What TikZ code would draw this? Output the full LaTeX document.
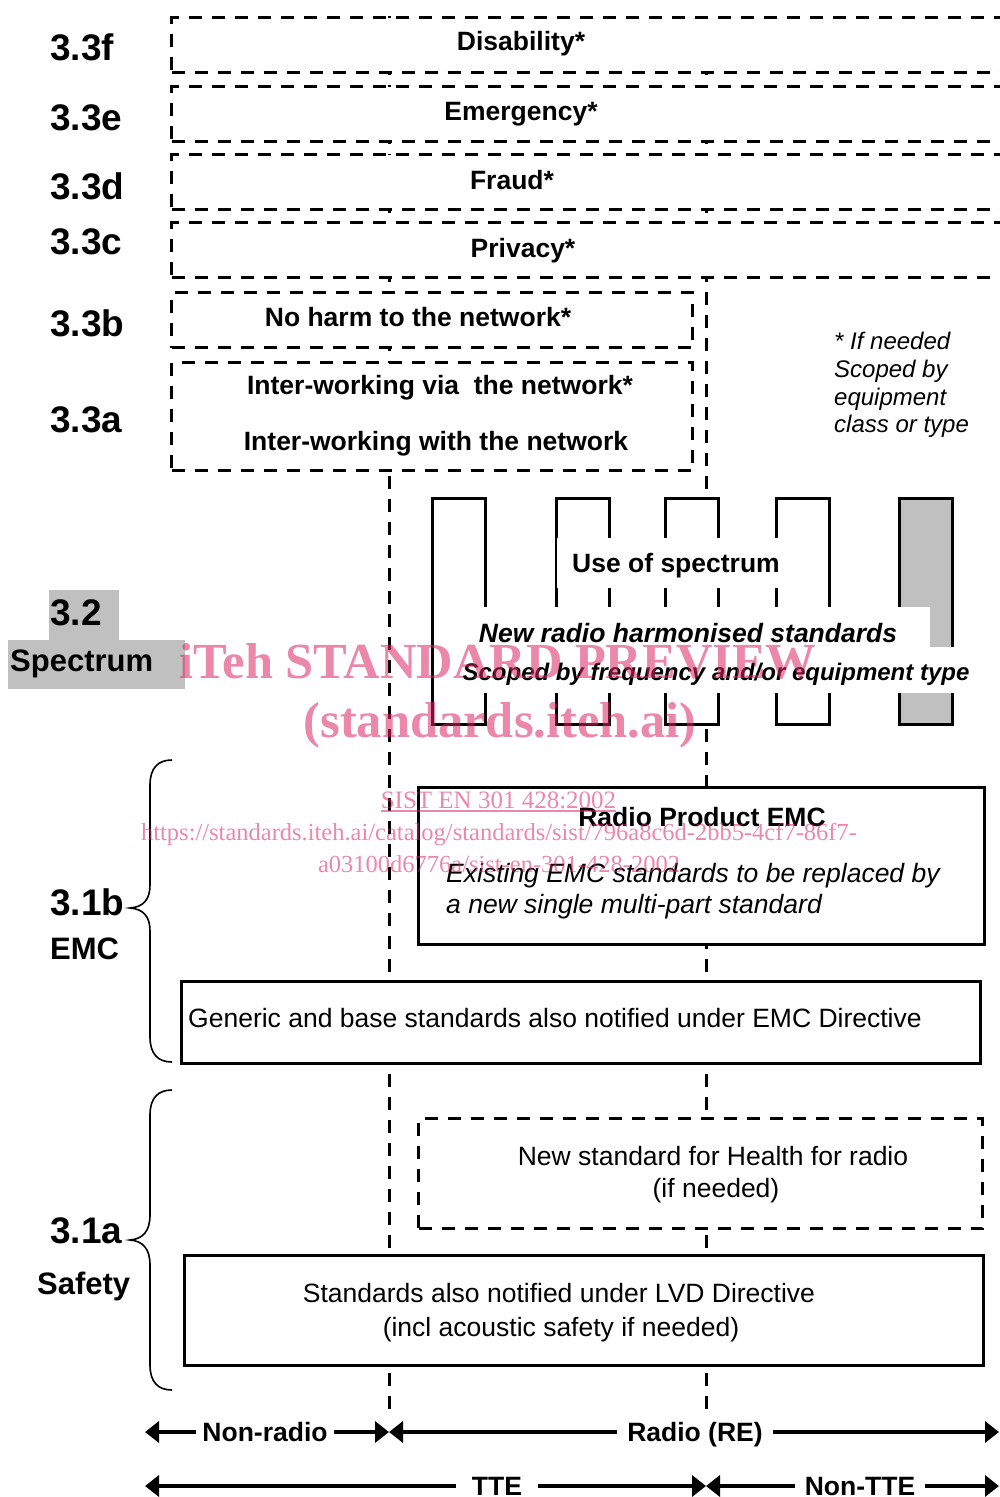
\documentclass[tikz,border=0pt]{standalone}
\usepackage{fontspec}
\setmainfont{Liberation Sans}
\newfontfamily\wmfont{Liberation Serif}
\usetikzlibrary{arrows.meta}
\definecolor{specgray}{RGB}{192,192,192}
\definecolor{wmpink}{RGB}{220,40,100}
\begin{document}
\begin{tikzpicture}[x=1pt,y=-1pt,
  dbox/.style={draw, dash pattern=on 13pt off 10pt, line width=3pt, fill=white, inner sep=0pt, anchor=north west},
  sbox/.style={draw, line width=3pt, fill=white, inner sep=0pt, anchor=north west},
  vline/.style={dash pattern=on 13pt off 10pt, line width=3pt},
  bigl/.style={anchor=base west, inner sep=0pt, font=\fontsize{37}{40}\selectfont\bfseries},
  midl/.style={anchor=base west, inner sep=0pt, font=\fontsize{31}{34}\selectfont\bfseries},
  btxt/.style={anchor=base, inner sep=0pt, font=\fontsize{26.5}{31}\selectfont\bfseries},
  rtxt/.style={anchor=base, inner sep=0pt, font=\fontsize{26.5}{31}\selectfont},
  itxt/.style={anchor=base west, inner sep=0pt, font=\fontsize{26.5}{31}\selectfont\itshape},
  note/.style={anchor=base west, inner sep=0pt, font=\fontsize{24}{27.7}\selectfont\itshape},
  arr/.style={line width=4pt, {Triangle[length=14pt,width=21pt]}-{Triangle[length=14pt,width=21pt]}},
  alab/.style={fill=white, inner ysep=0pt, inner xsep=6pt, text height=19pt, text depth=0pt, font=\fontsize{26.5}{31}\selectfont\bfseries},
  bracel/.style={line width=1.6pt},
  wm/.style={text=wmpink, text opacity=0.55, inner sep=0pt, anchor=base}
]
\useasboundingbox (0,0) rectangle (999,1497);
\fill[white] (0,0) rectangle (999,1497);

% vertical dashed separators
\coordinate (v1t) at (389,16);
\coordinate (v1b) at (389,1410);
\coordinate (v2t) at (706,16);
\coordinate (v2b) at (706,1410);
\draw[vline] (v1t) -- (v1b);
\draw[vline] (v2t) -- (v2b);

% 3.3 dashed boxes
\node[dbox, minimum width=850, minimum height=55] (dis) at (170,16) {};
\node[dbox, minimum width=850, minimum height=55] (eme) at (170,85) {};
\node[dbox, minimum width=850, minimum height=55] (fra) at (170,153) {};
\node[dbox, minimum width=850, minimum height=55] (pri) at (170,221) {};
\node[dbox, minimum width=521, minimum height=55] (noh) at (170,291) {};
\node[dbox, minimum width=521, minimum height=108] (itw) at (170,361) {};

\node[btxt] (tdis) at (521,50.5) {Disability*};
\node[btxt] (teme) at (521,120) {Emergency*};
\node[btxt] (tfra) at (512,189.5) {Fraud*};
\node[btxt] (tpri) at (523,257) {Privacy*};
\node[btxt] (tnoh) at (418,326.5) {No harm to the network*};
\node[btxt] (titw1) at (440,394.5) {Inter-working via\ \ the network*};
\node[btxt] (titw2) at (436,450.5) {Inter-working with the network};

\node[note] (n1) at (834,349.6) {* If needed};
\node[note] (n2) at (834,377.3) {Scoped by};
\node[note] (n3) at (834,405) {equipment};
\node[note] (n4) at (834,432.7) {class or type};

% left labels
\node[bigl] (l3f) at (50,60) {3.3f};
\node[bigl] (l3e) at (50,130) {3.3e};
\node[bigl] (l3d) at (50,199) {3.3d};
\node[bigl] (l3c) at (50,254) {3.3c};
\node[bigl] (l3b) at (50,336) {3.3b};
\node[bigl] (l3a) at (50,432) {3.3a};

% spectrum label
\fill[specgray] (49,590) rectangle (119,640);
\fill[specgray] (8,640) rectangle (185,689);
\node[bigl] (l32) at (50,625) {3.2};
\node[midl] (lspec) at (10,671) {Spectrum};

% spectrum boxes
\node[sbox, minimum width=53, minimum height=226] (sp1) at (431,497) {};
\node[sbox, minimum width=53, minimum height=226] (sp2) at (555,497) {};
\node[sbox, minimum width=53, minimum height=226] (sp3) at (664,497) {};
\node[sbox, minimum width=53, minimum height=226] (sp4) at (775,497) {};
\node[sbox, minimum width=53, minimum height=226, fill=specgray] (sp5) at (898,497) {};
\fill[white] (557,538) rectangle (781,588);
\fill[white] (470,607) rectangle (930,647);
\fill[white] (458,647) rectangle (975,693);
\node[btxt] (tuse) at (676,572.5) {Use of spectrum};
\node[btxt, font=\fontsize{26.5}{31}\selectfont\bfseries\itshape] (tnew) at (688,642.5) {New radio harmonised standards};
\node[btxt, font=\fontsize{24}{28}\selectfont\bfseries\itshape] (tsco) at (716,680.6) {Scoped by frequency and/or equipment type};

% EMC
\node[sbox, minimum width=566, minimum height=157] (remc) at (417,786) {};
\node[btxt] (tremc) at (702,826.5) {Radio Product EMC};
\node[itxt] (texist1) at (446,882.5) {Existing EMC standards to be replaced by};
\node[itxt] (texist2) at (446,913.5) {a new single multi-part standard};
\node[sbox, minimum width=799, minimum height=82] (gen) at (180,980) {};
\node[rtxt, anchor=base west] (tgen) at (188,1027.5) {Generic and base standards also notified under EMC Directive};
\node[bigl] (l31b) at (50,915) {3.1b};
\node[midl] (lemc) at (50,959) {EMC};
\draw[bracel] (172,760) .. controls (158,760) and (150,768) .. (150,785) -- (150,885) .. controls (150,900) and (143,907) .. (130,908) .. controls (143,909) and (150,916) .. (150,931) -- (150,1037) .. controls (150,1054) and (158,1062) .. (172,1062);

% Safety
\node[dbox, minimum width=564, minimum height=110] (hea) at (417,1117) {};
\node[rtxt] (thea1) at (713,1165.5) {New standard for Health for radio};
\node[rtxt] (thea2) at (716,1197.5) {(if needed)};
\node[sbox, minimum width=799, minimum height=110] (lvd) at (183,1254) {};
\node[rtxt] (tlvd1) at (559,1302.5) {Standards also notified under LVD Directive};
\node[rtxt] (tlvd2) at (561,1336.5) {(incl acoustic safety if needed)};
\node[bigl] (l31a) at (50,1243) {3.1a};
\node[midl] (lsaf) at (37,1294) {Safety};
\draw[bracel] (172,1090) .. controls (158,1090) and (150,1098) .. (150,1115) -- (150,1215) .. controls (150,1231) and (143,1239) .. (130,1240) .. controls (143,1241) and (150,1249) .. (150,1265) -- (150,1365) .. controls (150,1382) and (158,1390) .. (172,1390);

% bottom arrows
\coordinate (nrL) at (145,1432);
\coordinate (nrR) at (389,1432);
\coordinate (reL) at (389,1432);
\coordinate (reR) at (999,1432);
\coordinate (tteL) at (145,1486);
\coordinate (tteR) at (706,1486);
\coordinate (ntL) at (706,1486);
\coordinate (ntR) at (999,1486);
\draw[arr] (nrL) -- (nrR);
\draw[arr] (reL) -- (reR);
\draw[arr] (tteL) -- (tteR);
\draw[arr] (ntL) -- (ntR);
\node[alab] (lnr) at (265,1432) {Non-radio};
\node[alab, inner xsep=10pt] (lre) at (695,1432) {Radio (RE)};
\node[alab, inner xsep=16pt] (ltte) at (497,1486) {TTE};
\node[alab, inner xsep=10pt] (lnt) at (860,1486) {Non-TTE};

% watermark
\node[wm, font=\wmfont\fontsize{50.5}{52}\selectfont\bfseries] (wm1) at (498,678) {iTeh STANDARD PREVIEW};
\node[wm, font=\wmfont\fontsize{50.5}{52}\selectfont\bfseries] (wm2) at (500,737) {(standards.iteh.ai)};
\node[wm, font=\wmfont\fontsize{25}{27}\selectfont] (wm3) at (498.5,808) {SIST EN 301 428:2002};
\draw[wmpink, opacity=0.55, line width=1.2pt] (381,811) -- (616,811);
\node[wm, font=\wmfont\fontsize{24.5}{27}\selectfont] (wm4) at (499,840) {https://standards.iteh.ai/catalog/standards/sist/796a8c6d-2bb5-4cf7-86f7-};
\node[wm, font=\wmfont\fontsize{24.5}{27}\selectfont] (wm5) at (499,872) {a03100d6776a/sist-en-301-428-2002};
\end{tikzpicture}
\end{document}
